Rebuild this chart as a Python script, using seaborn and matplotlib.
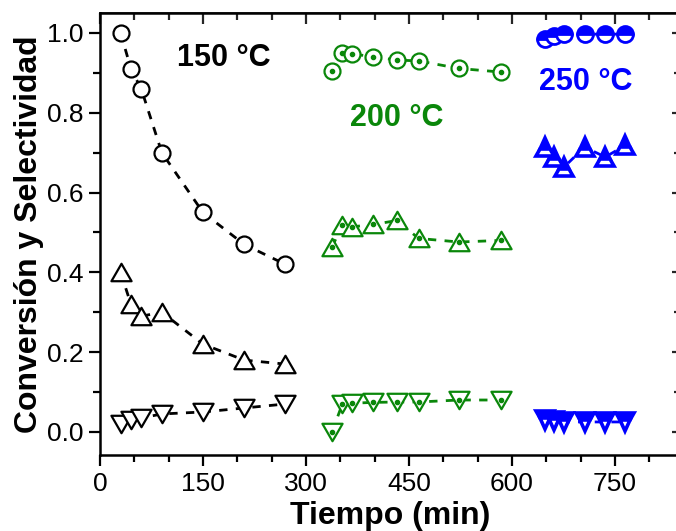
import numpy as np
import pandas as pd
import matplotlib
matplotlib.use("Agg")
import matplotlib.pyplot as plt
import seaborn as sns
from matplotlib.path import Path

# --- Data ---
# 150 C
t_150 = [30, 45, 60, 90, 150, 210, 270]
conv_150 = [1.00, 0.91, 0.86, 0.70, 0.55, 0.47, 0.42]
sel_up_150 = [0.40, 0.32, 0.29, 0.30, 0.22, 0.18, 0.17]
sel_dn_150 = [0.02, 0.03, 0.035, 0.045, 0.05, 0.06, 0.07]

# 200 C
t_200 = [338, 353, 367, 398, 433, 464, 523, 584]
conv_200 = [0.905, 0.95, 0.948, 0.94, 0.932, 0.93, 0.911, 0.902]
sel_up_200 = [0.464, 0.518, 0.514, 0.52, 0.53, 0.485, 0.476, 0.48]
sel_dn_200 = [0.0, 0.07, 0.072, 0.074, 0.075, 0.075, 0.08, 0.08]

# 250 C
t_250 = [648, 661, 676, 706, 736, 765]
conv_250 = [0.986, 0.992, 0.997, 0.997, 0.997, 0.997]
sel_up_250 = [0.714, 0.689, 0.664, 0.714, 0.689, 0.718]
sel_dn_250 = [0.03, 0.028, 0.025, 0.025, 0.025, 0.025]

LABELS = ["150 °C", "200 °C", "250 °C"]
COLORS = ["black", "#0a870a", "#0000ff"]

# equilateral triangles (matplotlib's ^ is too tall)
TRI_UP = Path([(0, 0.866), (-1, -0.866), (1, -0.866), (0, 0.866)],
              [Path.MOVETO, Path.LINETO, Path.LINETO, Path.CLOSEPOLY])
TRI_DN = Path([(0, -0.866), (-1, 0.866), (1, 0.866), (0, -0.866)],
              [Path.MOVETO, Path.LINETO, Path.LINETO, Path.CLOSEPOLY])

sns.set_theme(style="ticks")
plt.rcParams['font.family'] = ['Liberation Sans', 'DejaVu Sans']
plt.rcParams['text.color'] = 'black'
plt.rcParams['axes.labelcolor'] = 'black'

fig = plt.figure(figsize=(6.76, 5.31), dpi=100)
ax = fig.add_axes([0.148, 0.143, 0.858, 0.8325])


def draw_series(t, y, marker, color, ms, fill='full', dot=False, mew=1.6):
    df = pd.DataFrame({'t': t, 'y': y})
    kws = dict(marker=marker, markersize=ms, markeredgewidth=mew,
               markeredgecolor=color, linewidth=2.0,
               linestyle=(0, (3, 3)))
    if fill == 'top':
        kws.update(fillstyle='top', markerfacecolor=color,
                   markerfacecoloralt='white')
    else:
        kws.update(markerfacecolor='white')
    sns.lineplot(data=df, x='t', y='y', color=color, ax=ax, sort=False,
                 estimator=None, legend=False, **kws)
    if dot:
        ax.plot(t, y, linestyle='none', marker='o', markersize=3,
                color=color, zorder=5)


# 150 C
draw_series(t_150, conv_150, 'o', COLORS[0], 11.5)
draw_series(t_150, sel_up_150, TRI_UP, COLORS[0], 14.5)
draw_series(t_150, sel_dn_150, TRI_DN, COLORS[0], 14.5)
# 200 C
draw_series(t_200, conv_200, 'o', COLORS[1], 11.5, dot=True)
draw_series(t_200, sel_up_200, TRI_UP, COLORS[1], 14.5, dot=True)
draw_series(t_200, sel_dn_200, TRI_DN, COLORS[1], 14.5, dot=True)
# 250 C
draw_series(t_250, conv_250, 'o', COLORS[2], 11.5, fill='top', mew=2.0)
draw_series(t_250, sel_up_250, '^', COLORS[2], 13, fill='top', mew=2.6)
draw_series(t_250, sel_dn_250, 'v', COLORS[2], 13, fill='top', mew=2.6)

# temperature labels
ax.text(180, 0.937, LABELS[0], color=COLORS[0], fontsize=22,
        fontweight='bold', ha='center', va='center')
ax.text(432, 0.786, LABELS[1], color=COLORS[1], fontsize=22,
        fontweight='bold', ha='center', va='center')
ax.text(707, 0.876, LABELS[2], color=COLORS[2], fontsize=22,
        fontweight='bold', ha='center', va='center')

# --- Axes ---
ax.set_xlim(0, 845)
ax.set_ylim(-0.058, 1.05)
ax.set_xticks([0, 150, 300, 450, 600, 750])
ax.set_xticks(np.arange(50, 845, 50), minor=True)
ax.set_yticks([0.0, 0.2, 0.4, 0.6, 0.8, 1.0])
ax.set_yticks(np.arange(0.1, 1.0, 0.2), minor=True)
ax.set_yticklabels(['0.0', '0.2', '0.4', '0.6', '0.8', '1.0'])
ax.tick_params(which='major', direction='out', length=8, width=1.6,
               labelsize=19, color='black', labelcolor='black', pad=4)
ax.tick_params(which='minor', direction='out', length=5, width=1.6,
               color='black')
for sp in ax.spines.values():
    sp.set_linewidth(1.8)
    sp.set_color('black')
    sp.set_visible(True)

# mirrored ticks pointing inward on top/right
top = ax.secondary_xaxis('top')
top.set_xticks([0, 150, 300, 450, 600, 750])
top.set_xticks(np.arange(50, 845, 50), minor=True)
top.tick_params(which='both', direction='in', labeltop=False, width=1.6)
top.tick_params(which='major', length=8)
top.tick_params(which='minor', length=5)
right = ax.secondary_yaxis('right')
right.set_yticks([0.0, 0.2, 0.4, 0.6, 0.8, 1.0])
right.set_yticks(np.arange(0.1, 1.0, 0.2), minor=True)
right.tick_params(which='both', direction='in', labelright=False, width=1.6)
right.tick_params(which='major', length=6)
right.tick_params(which='minor', length=4)

ax.set_xlabel('Tiempo (min)', fontsize=23, fontweight='bold', labelpad=4,
              color='black')
ax.set_ylabel('Conversión y Selectividad', fontsize=23, fontweight='bold',
              labelpad=2, color='black')

fig.savefig('out.png', dpi=100)
